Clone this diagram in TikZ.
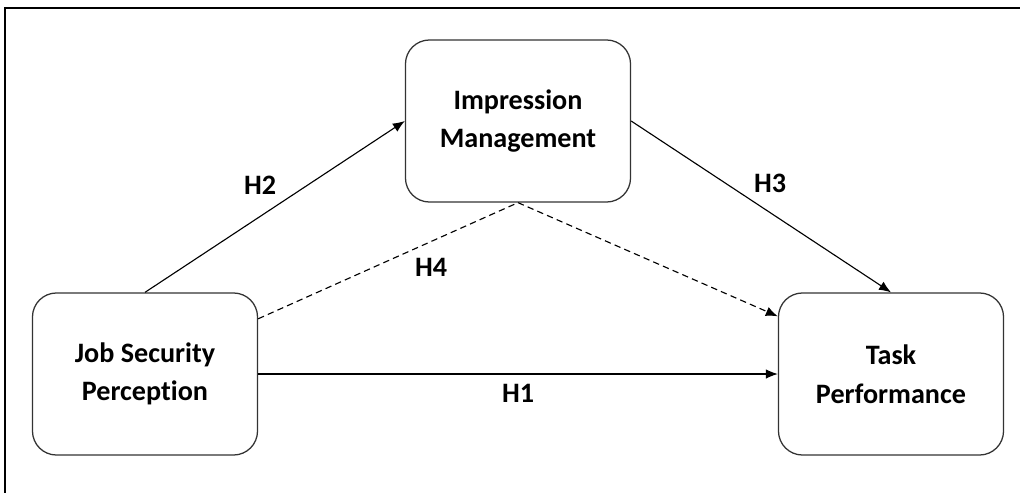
\documentclass[tikz,border=0pt]{standalone}
\usepackage{fontspec}
\setmainfont[Ligatures=NoCommon]{Carlito}
\usetikzlibrary{arrows.meta}

\begin{document}
\begin{tikzpicture}[x=0.025cm,y=-0.025cm,
  var/.style={draw=black!80,line width=0.9pt,rounded corners=0.6cm,
    minimum width=5.625cm,minimum height=4.05cm,align=center,
    font=\fontsize{20}{27.5}\selectfont\bfseries},
  hyp/.style={font=\fontsize{20}{24}\selectfont\bfseries},
  link/.style={line width=0.8pt,-{Latex[length=3mm,width=2.4mm]}},
  dlink/.style={line width=0.8pt,dash pattern=on 4.5pt off 3pt}]
  \useasboundingbox (0,0) rectangle (1020,493);
  \draw[line width=1.5pt] (1020,8) -- (5,8) -- (5,493);

  \node[var] (jsp) at (145,374) {Job Security\\Perception};
  \node[var] (im) at (518,121) {Impression\\Management};
  \node[var] (tp) at (891,374) {Task\\Performance};

  \coordinate (jsp-d) at (jsp.26);
  \coordinate (tp-d) at (tp.153);

  \draw[link] (jsp.north) -- (im.west);
  \draw[link] (im.east) -- (tp.north);
  \draw[link] (jsp.east) -- (tp.west);
  \draw[dlink] (jsp-d) -- (im.south);
  \draw[dlink,-{Latex[length=3mm,width=2.4mm]}] (im.south) -- (tp-d);

  \node[hyp] (h1) at (518,393) {H1};
  \node[hyp] (h2) at (260,185) {H2};
  \node[hyp] (h3) at (770,183) {H3};
  \node[hyp] (h4) at (431,267) {H4};
\end{tikzpicture}
\end{document}
